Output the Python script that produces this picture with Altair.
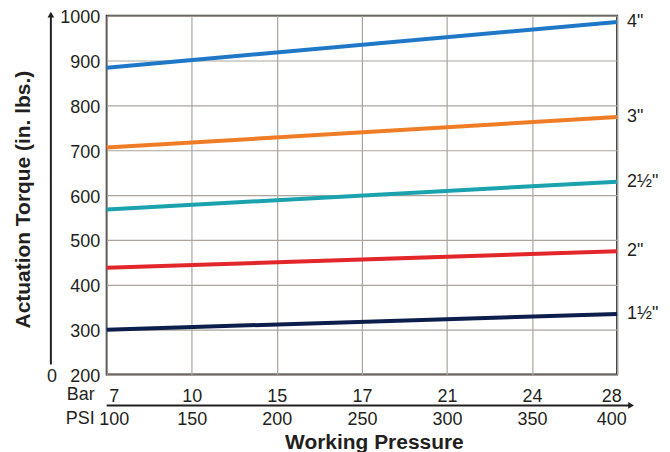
import altair as alt
import pandas as pd

psi_ticks = [100, 150, 200, 250, 300, 350, 400]
bar_ticks = ["7", "10", "15", "17", "21", "24", "28"]
y_ticks = [200, 300, 400, 500, 600, 700, 800, 900, 1000]
sizes = ['1½"', '2"', '2½"', '3"', '4"']
torque_at_100psi = [300, 438, 568, 706, 884]
torque_at_400psi = [335, 475, 630, 774, 986]
colors = ["#0c1f4c", "#e2262a", "#1aa3ae", "#f07c26", "#1f77c8"]

rows = []
for s, a, b in zip(sizes, torque_at_100psi, torque_at_400psi):
    rows.append({"size": s, "psi": psi_ticks[0], "torque": a})
    rows.append({"size": s, "psi": psi_ticks[-1], "torque": b})
df = pd.DataFrame(rows)
ends = df[df.psi == psi_ticks[-1]]

FONT = "Liberation Sans"
INK = "#231f20"
GRID = "#aca59d"
W, H = 512, 360
FS = 18

bar_map = "{" + ",".join(f"'{p}':'{b}'" for p, b in zip(psi_ticks, bar_ticks)) + "}"

x_enc = alt.X(
    "psi:Q",
    scale=alt.Scale(domain=[psi_ticks[0], psi_ticks[-1]], nice=False, zero=False),
    axis=alt.Axis(
        values=psi_ticks, format="d",
        labelExpr=f"[{bar_map}[''+datum.value], datum.label]",
        title="Working Pressure", domain=False, ticks=False, grid=True,
        gridColor=GRID, gridWidth=1.2, labelFlush=False,
        labelBaseline="top", labelPadding=13, labelLineHeight=23.5,
        labelFontSize=FS, labelFont=FONT, labelColor=INK,
        labelOffset={"condition": [{"test": "datum.value == 100", "value": 7},
                                   {"test": "datum.value == 400", "value": -6}],
                     "value": 0},
        titleFont=FONT, titleFontSize=21, titleFontWeight="bold", titleColor=INK,
        titleX=268, titleY=74, titleBaseline="alphabetic", titleAlign="center",
    ),
)
y_enc = alt.Y(
    "torque:Q",
    scale=alt.Scale(domain=[200, 1000], nice=False, zero=False),
    axis=alt.Axis(
        values=y_ticks, format="d", domain=False, ticks=False, grid=True,
        gridColor=GRID, gridWidth=1.2, labelPadding=7, labelOffset=2,
        labelFontSize=FS, labelFont=FONT, labelColor=INK,
        title="Actuation Torque (in. lbs.)",
        titleFont=FONT, titleFontSize=21, titleFontWeight="bold", titleColor=INK,
        titleAngle=270, titleX=-83, titleY=184, titleAlign="center", titleBaseline="middle",
    ),
)

lines = alt.Chart(df).mark_line(strokeWidth=4, strokeCap="butt").encode(
    x=x_enc, y=y_enc,
    color=alt.Color("size:N", scale=alt.Scale(domain=sizes, range=colors), legend=None),
    detail="size:N",
)

end_labels = alt.Chart(ends).mark_text(
    align="left", dx=10, baseline="middle", fontSize=FS, font=FONT, color=INK
).encode(x="psi:Q", y="torque:Q", text="size:N")

one = alt.Data(values=[{"k": 1}])

y_arrow = alt.Chart(one).mark_rule(color=INK, strokeWidth=2).encode(
    x=alt.value(-56), y=alt.value(-2), y2=alt.value(350))
y_head = alt.Chart(one).mark_point(shape="triangle-up", filled=True, size=45, color=INK, opacity=1).encode(
    x=alt.value(-56), y=alt.value(-1))
zero_lbl = alt.Chart(one).mark_text(text="0", fontSize=FS, font=FONT, color=INK, baseline="middle").encode(
    x=alt.value(-55), y=alt.value(362))
x_arrow = alt.Chart(one).mark_rule(color=INK, strokeWidth=2).encode(
    x=alt.value(0), x2=alt.value(524), y=alt.value(391))
x_head = alt.Chart(one).mark_point(shape="triangle-right", filled=True, size=45, color=INK, opacity=1).encode(
    x=alt.value(526), y=alt.value(391))
bar_lbl = alt.Chart(one).mark_text(text="Bar", align="right", baseline="middle", fontSize=FS, font=FONT, color=INK).encode(
    x=alt.value(-12), y=alt.value(381))
psi_lbl = alt.Chart(one).mark_text(text="PSI", align="right", baseline="middle", fontSize=FS, font=FONT, color=INK).encode(
    x=alt.value(-12), y=alt.value(405))

chart = alt.layer(lines, end_labels, y_arrow, y_head, zero_lbl, x_arrow, x_head, bar_lbl, psi_lbl).properties(
    width=W, height=H,
    autosize=alt.AutoSizeParams(type="none"),
    padding={"left": 99, "top": 7, "right": 45, "bottom": 80},
    background="white",
).configure_view(stroke="#2b2b2b", strokeWidth=2)

chart.save("out.html", embed_options={"renderer": "svg", "actions": False})
